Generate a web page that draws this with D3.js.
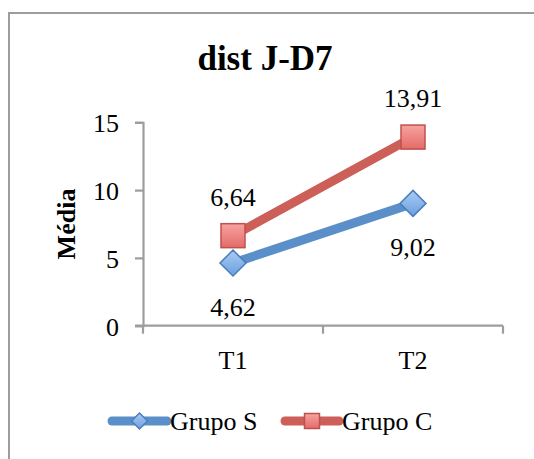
<!DOCTYPE html>
<html>
<head>
<meta charset="utf-8">
<script src="https://cdn.jsdelivr.net/npm/d3@7"></script>
<style>
  html, body { margin: 0; padding: 0; background: #fff; }
  svg { display: block; }
  text { font-family: "Liberation Serif", "Times New Roman", serif; fill: #000; }
</style>
</head>
<body>
<svg id="chart" width="534" height="459"></svg>
<script>
// Chart data
const categories = ["T1", "T2"];
const seriesNames = ["Grupo S", "Grupo C"];
const grupoS = [4.62, 9.02];
const grupoC = [6.64, 13.91];
const yTicks = [0, 5, 10, 15];
const title = "dist J-D7";
const yLabel = "Média";

const fmt = v => d3.format(".2f")(v).replace(".", ",");

const svg = d3.select("#chart");
const W = 534, H = 459;

// gradients for markers
const defs = svg.append("defs");
const gBlue = defs.append("linearGradient").attr("id", "gBlue").attr("x1", 0).attr("y1", 0).attr("x2", 0).attr("y2", 1);
gBlue.append("stop").attr("offset", "0%").attr("stop-color", "#a9cbf3");
gBlue.append("stop").attr("offset", "100%").attr("stop-color", "#6c9fe0");
const gRed = defs.append("linearGradient").attr("id", "gRed").attr("x1", 0).attr("y1", 0).attr("x2", 0).attr("y2", 1);
gRed.append("stop").attr("offset", "0%").attr("stop-color", "#f6a3a0");
gRed.append("stop").attr("offset", "100%").attr("stop-color", "#e46b68");

// outer frame
svg.append("rect")
  .attr("x", 9).attr("y", 13).attr("width", 600).attr("height", 600)
  .attr("fill", "none").attr("stroke", "#9d9d9d").attr("stroke-width", 2);

const plot = { left: 143, right: 503, top: 122.3, bottom: 325.7 };

const x = d3.scaleBand().domain(categories).range([plot.left, plot.right]);
const y = d3.scaleLinear().domain([0, 15]).range([plot.bottom, plot.top]);

// title
svg.append("text")
  .attr("x", 265).attr("y", 70)
  .attr("text-anchor", "middle")
  .style("font-size", "35px").style("font-weight", "bold")
  .text(title);

// y axis
const yAxis = svg.append("g")
  .attr("transform", `translate(${plot.left},0)`)
  .call(d3.axisLeft(y).tickValues(yTicks).tickSize(8).tickPadding(16).tickFormat(d3.format("d")));
yAxis.select(".domain").attr("stroke", "#9d9d9d").attr("stroke-width", 2.2);
yAxis.selectAll(".tick line").attr("stroke", "#9d9d9d").attr("stroke-width", 2.2);
yAxis.selectAll(".tick text")
  .style("font-family", "Liberation Serif, serif").style("font-size", "26px").attr("fill", "#000")
  .attr("dy", "0.36em");

// x axis: ticks at category boundaries
const bounds = [plot.left, plot.left + x.bandwidth(), plot.right];
const xg = svg.append("g");
xg.append("line")
  .attr("x1", plot.left - 8).attr("x2", plot.right)
  .attr("y1", plot.bottom).attr("y2", plot.bottom)
  .attr("stroke", "#9d9d9d").attr("stroke-width", 2.2);
xg.selectAll("line.tk").data(bounds).join("line").attr("class", "tk")
  .attr("x1", d => d).attr("x2", d => d)
  .attr("y1", plot.bottom).attr("y2", plot.bottom + 8)
  .attr("stroke", "#9d9d9d").attr("stroke-width", 2.2);
xg.selectAll("text").data(categories).join("text")
  .attr("x", d => x(d) + x.bandwidth() / 2)
  .attr("y", 369)
  .attr("text-anchor", "middle")
  .style("font-size", "26px")
  .text(d => d);

// y axis title
svg.append("text")
  .attr("transform", `translate(75,224) rotate(-90)`)
  .attr("text-anchor", "middle")
  .style("font-size", "26px").style("font-weight", "bold")
  .text(yLabel);

const cx = d => x(d) + x.bandwidth() / 2;
const line = d3.line().x(d => cx(d.cat)).y(d => y(d.v));

const series = [
  { name: seriesNames[0], values: grupoS, color: "#5b8fc9", stroke: "#4a7ebb", fill: "url(#gBlue)", shape: "diamond", labelDy: 53 },
  { name: seriesNames[1], values: grupoC, color: "#cd5f59", stroke: "#c0504d", fill: "url(#gRed)", shape: "square", labelDy: -30 }
];

function marker(g, shape, size, fill, stroke) {
  if (shape === "diamond") {
    const r = size / 2;
    g.append("path").attr("d", `M0,${-r}L${r},0L0,${r}L${-r},0Z`)
      .attr("fill", fill).attr("stroke", stroke).attr("stroke-width", 1.5);
  } else {
    g.append("rect").attr("x", -size / 2).attr("y", -size / 2)
      .attr("width", size).attr("height", size)
      .attr("fill", fill).attr("stroke", stroke).attr("stroke-width", 1.5);
  }
}

series.forEach(s => {
  const pts = categories.map((c, i) => ({ cat: c, v: s.values[i] }));
  svg.append("path").datum(pts)
    .attr("d", line)
    .attr("fill", "none").attr("stroke", s.color)
    .attr("stroke-width", 9).attr("stroke-linecap", "round");
  pts.forEach(p => {
    const g = svg.append("g").attr("transform", `translate(${cx(p.cat)},${y(p.v)})`);
    marker(g, s.shape, s.shape === "diamond" ? 26 : 24, s.fill, s.stroke);
    svg.append("text")
      .attr("x", cx(p.cat)).attr("y", y(p.v) + s.labelDy)
      .attr("text-anchor", "middle")
      .style("font-size", "26px")
      .text(fmt(p.v));
  });
});

// legend
const legend = [
  { s: series[0], x1: 112, x2: 167, tx: 170 },
  { s: series[1], x1: 285, x2: 339, tx: 342 }
];
legend.forEach(l => {
  const ly = 421;
  svg.append("line")
    .attr("x1", l.x1).attr("x2", l.x2).attr("y1", ly).attr("y2", ly)
    .attr("stroke", l.s.color).attr("stroke-width", 9).attr("stroke-linecap", "round");
  const g = svg.append("g").attr("transform", `translate(${(l.x1 + l.x2) / 2},${ly})`);
  marker(g, l.s.shape, l.s.shape === "diamond" ? 16 : 15, l.s.fill, l.s.stroke);
  svg.append("text")
    .attr("x", l.tx).attr("y", ly + 9)
    .style("font-size", "26px")
    .text(l.s.name);
});
</script>
</body>
</html>
